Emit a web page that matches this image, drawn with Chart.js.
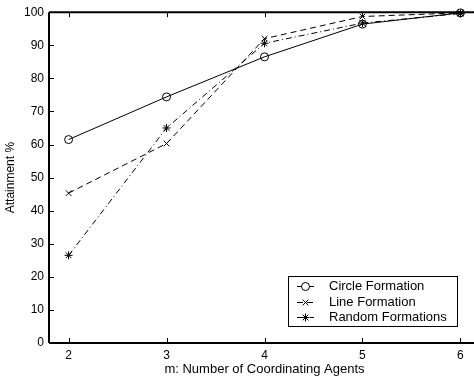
<!DOCTYPE html>
<html>
<head>
<meta charset="utf-8">
<script src="https://cdn.jsdelivr.net/npm/chart.js@4"></script>
<style>
  html, body { margin: 0; padding: 0; background: #fff; overflow: hidden; }
  #wrap { width: 474px; height: 383px; overflow: hidden; }
</style>
</head>
<body>
<div id="wrap"><canvas id="attainment" width="490" height="383"></canvas></div>
<script>
(() => {
    // values
    const agents = [2, 3, 4, 5, 6];
    const circleFormation = [61.5, 74.4, 86.5, 96.4, 99.8];
    const lineFormation = [45.3, 60.3, 92.0, 98.7, 99.8];
    const randomFormations = [26.5, 65.0, 90.6, 96.7, 99.6];
    const yTicks = [0, 10, 20, 30, 40, 50, 60, 70, 80, 90, 100];

    const FONT = 'Liberation Sans, Arial, Helvetica, sans-serif';
    const toPoints = (values) => values.map((v, i) => ({ x: agents[i], y: v }));

    const series = [
        { label: 'Circle Formation', values: circleFormation, dash: [], point: 'circle', radius: 4 },
        { label: 'Line Formation', values: lineFormation, dash: [6, 4], point: 'crossRot', radius: 4 },
        { label: 'Random Formations', values: randomFormations, dash: [6, 3, 1, 3], point: 'star', radius: 4 },
    ];

    // MATLAB style box with inward ticks and a small legend inside the axes
    const matlabBox = {
        id: 'matlabBox',
        afterDraw(chart) {
            const { ctx, chartArea: a, scales } = chart;
            ctx.save();
            ctx.strokeStyle = '#000';
            ctx.lineWidth = 2;
            ctx.beginPath();
            ctx.moveTo(a.left, a.top);
            ctx.lineTo(a.right, a.top);
            ctx.moveTo(a.left, a.bottom);
            ctx.lineTo(a.right, a.bottom);
            ctx.moveTo(a.left, a.top);
            ctx.lineTo(a.left, a.bottom);
            ctx.stroke();

            ctx.lineWidth = 1;
            ctx.beginPath();
            agents.forEach((v) => {
                const x = Math.round(scales.x.getPixelForValue(v)) + 0.5;
                ctx.moveTo(x, a.bottom);
                ctx.lineTo(x, a.bottom - 5);
                ctx.moveTo(x, a.top);
                ctx.lineTo(x, a.top + 5);
            });
            yTicks.forEach((v) => {
                const y = Math.round(scales.y.getPixelForValue(v)) + 0.5;
                ctx.moveTo(a.left, y);
                ctx.lineTo(a.left + 5, y);
            });
            ctx.stroke();

            // legend
            const box = { left: 288.5, top: 276.5, right: 457.5, bottom: 326.5 };
            ctx.fillStyle = '#fff';
            ctx.fillRect(box.left, box.top, box.right - box.left, box.bottom - box.top);
            ctx.lineWidth = 1;
            ctx.strokeRect(box.left, box.top, box.right - box.left, box.bottom - box.top);
            const rows = [286, 302, 317];
            chart.data.datasets.forEach((ds, i) => {
                const y = rows[i] + 0.5;
                ctx.setLineDash(ds.borderDash || []);
                ctx.beginPath();
                ctx.moveTo(297, y);
                ctx.lineTo(314, y);
                ctx.stroke();
                ctx.setLineDash([]);
                ctx.fillStyle = '#fff';
                Chart.helpers.drawPoint(ctx, {
                    pointStyle: ds.pointStyle,
                    radius: ds.pointRadius,
                    borderWidth: 1,
                    rotation: 0,
                }, 305.5, y);
                ctx.font = '13px ' + FONT;
                ctx.textBaseline = 'middle';
                ctx.fillStyle = '#000';
                ctx.fillText(ds.label, 329, y);
            });
            ctx.restore();
        },
    };

    new Chart(document.getElementById('attainment'), {
        type: 'line',
        data: {
            datasets: series.map((s) => ({
                label: s.label,
                data: toPoints(s.values),
                borderColor: '#000',
                backgroundColor: 'transparent',
                borderWidth: 1,
                borderDash: s.dash,
                pointStyle: s.point,
                pointRadius: s.radius,
                pointBorderColor: '#000',
                pointBackgroundColor: 'transparent',
                pointBorderWidth: 1,
                tension: 0,
                clip: false,
            })),
        },
        options: {
            responsive: false,
            animation: false,
            events: [],
            layout: { padding: { top: 3, right: 10, left: 0, bottom: 0 } },
            plugins: {
                legend: { display: false },
                tooltip: { enabled: false },
            },
            scales: {
                x: {
                    type: 'linear',
                    min: 1.8,
                    max: 6.2,
                    afterFit: (scale) => { scale.height = 40; },
                    afterBuildTicks: (scale) => { scale.ticks = agents.map((v) => ({ value: v })); },
                    grid: { display: false, drawTicks: false },
                    border: { display: false },
                    ticks: { color: '#000', padding: 5, font: { family: FONT, size: 12 } },
                    title: {
                        display: true,
                        text: 'm: Number of Coordinating Agents',
                        color: '#000',
                        font: { family: FONT, size: 13 },
                        padding: { top: 0, bottom: 6 },
                    },
                },
                y: {
                    min: 0,
                    max: 100,
                    afterFit: (scale) => { scale.width = 49; },
                    afterBuildTicks: (scale) => { scale.ticks = yTicks.map((v) => ({ value: v })); },
                    grid: { display: false, drawTicks: false },
                    border: { display: false },
                    ticks: { color: '#000', padding: 5, font: { family: FONT, size: 12 } },
                    title: {
                        display: true,
                        text: 'Attainment %',
                        color: '#000',
                        font: { family: FONT, size: 12 },
                        padding: { top: 3, bottom: 0 },
                    },
                },
            },
        },
        plugins: [matlabBox],
    });
})();
</script>
</body>
</html>
